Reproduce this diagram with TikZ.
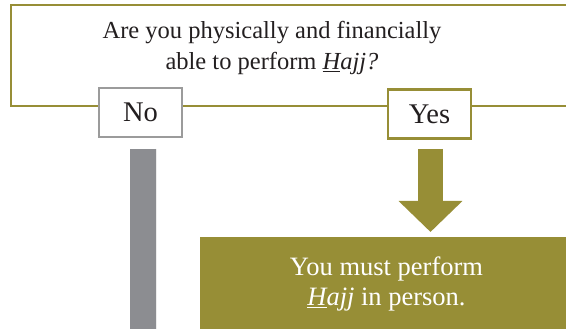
\documentclass[tikz,border=0pt]{standalone}
\usepackage{fontspec}
\setmainfont{Liberation Serif}
\usetikzlibrary{arrows.meta}
\definecolor{olive}{HTML}{978E36}
\definecolor{barGray}{HTML}{8C8D91}
\definecolor{boxGray}{HTML}{9B9B9B}
\definecolor{ink}{HTML}{231F20}
\newcommand{\hajj}{\textit{\underline{H}ajj}}
\tikzset{
  answer/.style={draw, fill=white, line width=2.5pt, minimum width=83pt, minimum height=49pt, inner sep=0pt, text=ink, font=\fontsize{28.5}{32}\selectfont},
}
\begin{document}
\begin{tikzpicture}[x=1pt,y=-1pt]
\useasboundingbox (0,0) rectangle (566,329);
% question frame
\draw[olive, line width=2.7pt] (570,5) -- (11,5) -- (11,106) -- (570,106);
\node[align=center, font=\fontsize{24.5}{31}\selectfont, text=ink] (q) at (272,48)
  {Are you physically and financially\\ able to perform \textit{\underline{H}ajj?}};
\node[answer, draw=boxGray] (no) at (140.5,112.5) {No};
\node[answer, draw=olive] (yes) at (429.5,114) {Yes};
% result
\node[fill=olive, minimum width=380pt, minimum height=100pt, anchor=north west, inner sep=0pt] (res) at (200,237) {};
\node[align=center, text=white, font=\fontsize{26.5}{30}\selectfont] (restext) at (386.5,284)
  {You must perform\\ \hajj{} in person.};
% connectors
\coordinate (nobot) at (143,335);
\draw[barGray, line width=26pt] (143,149) -- (nobot);
\draw[white!85!gray, line width=1.2pt] (156.6,149) -- (156.6,335);
\draw[olive, line width=25pt, -{Triangle[width=62pt,length=31pt]}, shorten <=10pt, shorten >=5pt] (430.5,139) -- (res.north -| 430.5,237);
\end{tikzpicture}
\end{document}
